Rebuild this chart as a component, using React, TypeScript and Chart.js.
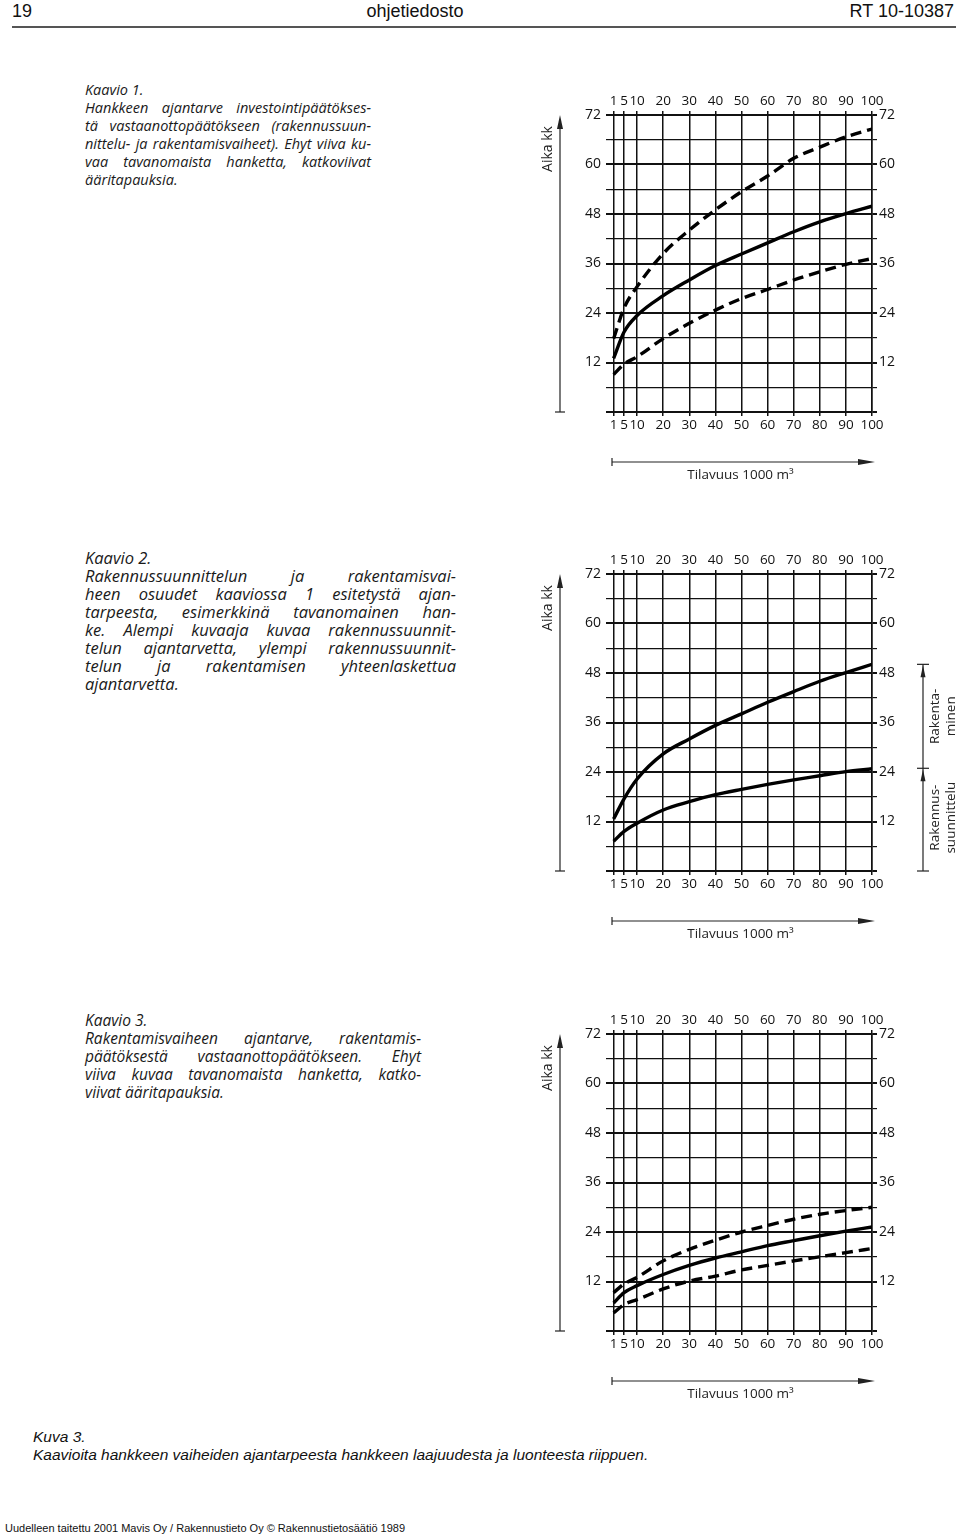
import React, { useEffect, useRef } from "react";
import { Chart, registerables } from "chart.js";

Chart.register(...registerables);

// ---------- data ----------
const X_VALUES = [1, 5, 10, 20, 30, 40, 50, 60, 70, 80, 90, 100];
const X_TICKS = [1, 5, 10, 20, 30, 40, 50, 60, 70, 80, 90, 100];
const X_MIN = 0;
const X_MAX = 100;
const Y_MIN = 0;
const Y_MAX = 72;
const Y_STEP = 6;
const Y_LABEL_STEP = 12;

// Kaavio 1
const K1_SOLID = [13, 19.4, 23.4, 28.2, 32, 35.5, 38.3, 41, 43.7, 46.1, 48.1, 49.9];
const K1_DASH_UPPER = [17.8, 25.2, 30.4, 38.4, 44.1, 49, 53.4, 57.2, 61.5, 64.2, 66.7, 68.6];
const K1_DASH_LOWER = [9.1, 11.6, 13.4, 17.8, 21.5, 24.7, 27.5, 29.7, 32, 34, 35.8, 37.2];

// Kaavio 2
const K2_TOTAL = [12.6, 17.5, 22.3, 28.4, 32, 35.3, 38.1, 40.9, 43.5, 46, 48.1, 50.1];
const K2_PLANNING = [7.2, 9.6, 11.6, 14.8, 16.8, 18.5, 19.8, 21, 22.1, 23.1, 24.1, 24.8];
const K2_BRACKET = [0, 24.9, 50.1];

// Kaavio 3
const K3_SOLID = [6.8, 9.3, 11, 13.7, 15.9, 17.7, 19.2, 20.7, 21.9, 23.1, 24.2, 25.2];
const K3_DASH_UPPER = [9.3, 11.4, 13, 17, 19.8, 22, 24, 25.6, 27.1, 28.3, 29.2, 30];
const K3_DASH_LOWER = [4.4, 6.4, 7.6, 10.2, 12.1, 13.3, 14.8, 15.9, 17, 18, 19, 20];

const K1_TEXT = [
  "Kaavio 1.",
  "Hankkeen ajantarve investointipäätökses-",
  "tä vastaanottopäätökseen (rakennussuun-",
  "nittelu- ja rakentamisvaiheet). Ehyt viiva ku-",
  "vaa tavanomaista hanketta, katkoviivat",
  "ääritapauksia.",
];
const K2_TEXT = [
  "Kaavio 2.",
  "Rakennussuunnittelun ja rakentamisvai-",
  "heen osuudet kaaviossa 1 esitetystä ajan-",
  "tarpeesta, esimerkkinä tavanomainen han-",
  "ke. Alempi kuvaaja kuvaa rakennussuunnit-",
  "telun ajantarvetta, ylempi rakennussuunnit-",
  "telun ja rakentamisen yhteenlaskettua",
  "ajantarvetta.",
];
const K3_TEXT = [
  "Kaavio 3.",
  "Rakentamisvaiheen ajantarve, rakentamis-",
  "päätöksestä vastaanottopäätökseen. Ehyt",
  "viiva kuvaa tavanomaista hanketta, katko-",
  "viivat ääritapauksia.",
];

const AXIS_Y_LABEL = "Aika kk";
const AXIS_X_LABEL = "Tilavuus 1000 m³";

// ---------- layout constants ----------
const CANVAS_LEFT = 530;
const CANVAS_W = 430;
const TOP_H = 30;
const PLOT_H = 297;
const BOTTOM_H = 75;
const LEFT_W = 81;
const RIGHT_W = 88;
const TICK_FONT = '"Open Sans", sans-serif';

type Series = { values: number[]; dashed: boolean };

function makeExtras(bracket: number[] | null) {
  return {
    id: "extras",
    afterDraw(chart: any) {
      const { ctx, chartArea: ca } = chart;
      const yScale = chart.scales.y;
      ctx.save();
      ctx.strokeStyle = "#222";
      ctx.fillStyle = "#222";
      ctx.lineWidth = 1.2;
      // vertical "Aika kk" arrow
      const ax = ca.left - 51;
      ctx.beginPath();
      ctx.moveTo(ax, ca.top + 10);
      ctx.lineTo(ax, ca.bottom);
      ctx.stroke();
      ctx.beginPath();
      ctx.moveTo(ax - 5, ca.bottom);
      ctx.lineTo(ax + 5, ca.bottom);
      ctx.stroke();
      ctx.beginPath();
      ctx.moveTo(ax, ca.top);
      ctx.lineTo(ax - 3, ca.top + 14);
      ctx.lineTo(ax + 3, ca.top + 14);
      ctx.closePath();
      ctx.fill();
      ctx.font = `14px ${TICK_FONT}`;
      ctx.textAlign = "center";
      ctx.textBaseline = "middle";
      ctx.save();
      ctx.translate(ax - 12, ca.top + 34);
      ctx.rotate(-Math.PI / 2);
      ctx.fillText(AXIS_Y_LABEL, 0, 0);
      ctx.restore();
      // horizontal "Tilavuus" arrow
      const ty = ca.bottom + 50;
      ctx.beginPath();
      ctx.moveTo(ca.left + 1, ty);
      ctx.lineTo(ca.right - 8, ty);
      ctx.stroke();
      ctx.beginPath();
      ctx.moveTo(ca.left + 1, ty - 4);
      ctx.lineTo(ca.left + 1, ty + 4);
      ctx.stroke();
      ctx.beginPath();
      ctx.moveTo(ca.right + 3, ty);
      ctx.lineTo(ca.right - 14, ty - 3);
      ctx.lineTo(ca.right - 14, ty + 3);
      ctx.closePath();
      ctx.fill();
      ctx.font = `13.5px ${TICK_FONT}`;
      ctx.fillText(AXIS_X_LABEL, (ca.left + ca.right) / 2 - 1, ty + 13);
      // bracket
      if (bracket) {
        const bx = ca.right + 51;
        const ys = bracket.map((v) => yScale.getPixelForValue(v));
        ctx.beginPath();
        ctx.moveTo(bx, ys[0]);
        ctx.lineTo(bx, ys[2]);
        ctx.stroke();
        ys.forEach((y) => {
          ctx.beginPath();
          ctx.moveTo(bx - 6, y);
          ctx.lineTo(bx + 6, y);
          ctx.stroke();
        });
        [ys[1], ys[2]].forEach((y) => {
          ctx.beginPath();
          ctx.moveTo(bx, y + 1);
          ctx.lineTo(bx - 2.5, y + 13);
          ctx.lineTo(bx + 2.5, y + 13);
          ctx.closePath();
          ctx.fill();
        });
        ctx.font = `13.5px ${TICK_FONT}`;
        const drawRot = (cy: number, l1: string, l2: string) => {
          ctx.save();
          ctx.translate(bx + 12, cy);
          ctx.rotate(-Math.PI / 2);
          ctx.fillText(l1, 0, 0);
          ctx.fillText(l2, 0, 16);
          ctx.restore();
        };
        drawRot((ys[2] + ys[1]) / 2, "Rakenta-", "minen");
        drawRot((ys[1] + ys[0]) / 2 - 2, "Rakennus-", "suunnittelu");
      }
      ctx.restore();
    },
  };
}

function ChartPanel({ plotTop, series, bracket }: { plotTop: number; series: Series[]; bracket: number[] | null }) {
  const ref = useRef<HTMLCanvasElement | null>(null);
  const height = TOP_H + PLOT_H + BOTTOM_H;
  useEffect(() => {
    if (!ref.current) return;
    const setTicks = (scale: any) => {
      scale.ticks = X_TICKS.map((v) => ({ value: v }));
    };
    const yGridWidth = (c: any) => (c.tick && c.tick.value % Y_LABEL_STEP === 0 ? 2 : 1.2);
    const yLabel = (v: any) => (Number(v) > 0 && Number(v) % Y_LABEL_STEP === 0 ? String(v) : "");
    const xTickFont = { family: TICK_FONT, size: 13.5 };
    const chart = new Chart(ref.current, {
      type: "line",
      data: {
        datasets: series.map((s) => ({
          data: X_VALUES.map((x, i) => ({ x, y: s.values[i] })),
          borderColor: "#000",
          borderWidth: 3.4,
          borderDash: s.dashed ? [11, 6] : [],
          pointRadius: 0,
          fill: false,
          cubicInterpolationMode: "monotone",
          borderCapStyle: "butt",
        })),
      },
      options: {
        responsive: false,
        animation: false,
        devicePixelRatio: 1,
        layout: { padding: 0 },
        plugins: { legend: { display: false }, tooltip: { enabled: false } },
        scales: {
          x: {
            type: "linear",
            position: "bottom",
            min: X_MIN,
            max: X_MAX,
            afterBuildTicks: setTicks,
            afterFit: (s: any) => {
              s.height = BOTTOM_H;
            },
            grid: { color: "#111", lineWidth: 1.5, tickLength: 4 },
            border: { color: "#111", width: 2 },
            ticks: {
              autoSkip: false,
              maxRotation: 0,
              padding: 1,
              color: "#111",
              font: xTickFont,
              callback: (v: any) => String(v),
            },
          },
          x2: {
            type: "linear",
            position: "top",
            min: X_MIN,
            max: X_MAX,
            afterBuildTicks: setTicks,
            afterFit: (s: any) => {
              s.height = TOP_H;
            },
            grid: { color: "#111", lineWidth: 1.5, tickLength: 4, drawOnChartArea: false },
            border: { color: "#111", width: 2 },
            ticks: {
              autoSkip: false,
              maxRotation: 0,
              padding: 2,
              color: "#111",
              font: xTickFont,
              callback: (v: any) => String(v),
            },
          },
          y: {
            type: "linear",
            position: "left",
            min: Y_MIN,
            max: Y_MAX,
            afterFit: (s: any) => {
              s.width = LEFT_W;
            },
            grid: { color: "#111", lineWidth: yGridWidth, tickLength: 5 },
            border: { display: false },
            ticks: {
              stepSize: Y_STEP,
              autoSkip: false,
              padding: 5,
              color: "#111",
              font: { family: TICK_FONT, size: 14 },
              callback: yLabel,
            },
          },
          y2: {
            type: "linear",
            position: "right",
            min: Y_MIN,
            max: Y_MAX,
            afterFit: (s: any) => {
              s.width = RIGHT_W;
            },
            grid: { color: "#111", lineWidth: yGridWidth, tickLength: 5, drawOnChartArea: false },
            border: { color: "#111", width: 1.5 },
            ticks: {
              stepSize: Y_STEP,
              autoSkip: false,
              padding: 2,
              color: "#111",
              font: { family: TICK_FONT, size: 14 },
              callback: yLabel,
            },
          },
        },
      } as any,
      plugins: [makeExtras(bracket)],
    });
    return () => chart.destroy();
  }, []);
  return (
    <canvas
      ref={ref}
      width={CANVAS_W}
      height={height}
      style={{ position: "absolute", left: CANVAS_LEFT, top: plotTop - TOP_H, width: CANVAS_W, height }}
    />
  );
}

function TextBlock({
  top,
  left,
  width,
  size,
  lines,
}: {
  top: number;
  left: number;
  width: number;
  size: number;
  lines: string[];
}) {
  return (
    <div
      style={{
        position: "absolute",
        top,
        left,
        width,
        fontFamily: '"Open Sans", sans-serif',
        fontStyle: "italic",
        fontSize: size,
        lineHeight: "18px",
        color: "#1a1a1a",
      }}
    >
      {lines.map((l, i) => {
        const full = i > 0 && i < lines.length - 1;
        return (
          <div
            key={i}
            style={{
              whiteSpace: "nowrap",
              textAlign: full ? "justify" : "left",
              textAlignLast: full ? "justify" : "left",
            }}
          >
            {l}
          </div>
        );
      })}
    </div>
  );
}

export default function App() {
  const header: React.CSSProperties = {
    position: "absolute",
    top: 1,
    fontFamily: '"Liberation Sans", Arial, sans-serif',
    fontSize: 18,
    color: "#111",
    lineHeight: "20px",
  };
  return (
    <div
      style={{
        position: "absolute",
        left: 0,
        top: 0,
        width: 960,
        height: 1536,
        background: "#fff",
        overflow: "hidden",
      }}
    >
      <div style={{ ...header, left: 12 }}>19</div>
      <div style={{ ...header, left: 300, width: 230, textAlign: "center" }}>ohjetiedosto</div>
      <div style={{ ...header, right: 6 }}>RT 10-10387</div>
      <div style={{ position: "absolute", left: 12, top: 26, width: 944, height: 2, background: "#555" }} />

      <TextBlock top={81} left={85} width={286} size={14.5} lines={K1_TEXT} />
      <TextBlock top={549} left={85} width={371} size={16.5} lines={K2_TEXT} />
      <TextBlock top={1011} left={85} width={336} size={15.5} lines={K3_TEXT} />

      <ChartPanel
        plotTop={115}
        bracket={null}
        series={[
          { values: K1_DASH_UPPER, dashed: true },
          { values: K1_SOLID, dashed: false },
          { values: K1_DASH_LOWER, dashed: true },
        ]}
      />
      <ChartPanel
        plotTop={574}
        bracket={K2_BRACKET}
        series={[
          { values: K2_TOTAL, dashed: false },
          { values: K2_PLANNING, dashed: false },
        ]}
      />
      <ChartPanel
        plotTop={1034}
        bracket={null}
        series={[
          { values: K3_DASH_UPPER, dashed: true },
          { values: K3_SOLID, dashed: false },
          { values: K3_DASH_LOWER, dashed: true },
        ]}
      />

      <div
        style={{
          position: "absolute",
          left: 33,
          top: 1428,
          fontFamily: '"Liberation Sans", Arial, sans-serif',
          fontStyle: "italic",
          fontSize: 15.5,
          lineHeight: "18px",
          color: "#111",
          whiteSpace: "nowrap",
        }}
      >
        <div>Kuva 3.</div>
        <div>Kaavioita hankkeen vaiheiden ajantarpeesta hankkeen laajuudesta ja luonteesta riippuen.</div>
      </div>
      <div
        style={{
          position: "absolute",
          left: 5,
          top: 1521,
          fontFamily: '"Liberation Sans", Arial, sans-serif',
          fontSize: 11,
          lineHeight: "14px",
          color: "#111",
          whiteSpace: "nowrap",
        }}
      >
        Uudelleen taitettu 2001 Mavis Oy / Rakennustieto Oy © Rakennustietosäätiö 1989
      </div>
    </div>
  );
}
